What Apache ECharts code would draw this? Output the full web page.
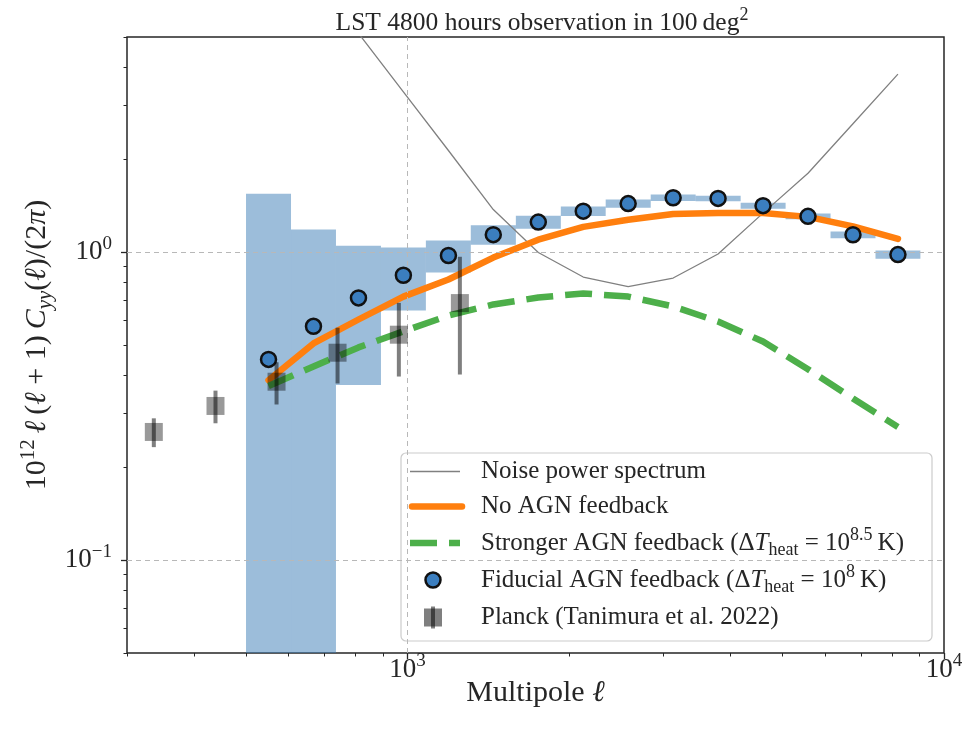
<!DOCTYPE html>
<html>
<head>
<meta charset="utf-8">
<title>LST tSZ power spectrum</title>
<script src="https://cdn.jsdelivr.net/npm/echarts@6.0.0/dist/echarts.min.js"></script>
<style>
  html, body { margin: 0; padding: 0; background: #ffffff; }
  #chart { width: 966px; height: 736px; }
</style>
</head>
<body>
<div id="chart"></div>
<script>
// ---- data -------------------------------------------------------------
// multipole bins (15 log-spaced bins)
const binEdges   = [500, 606.5, 735.6, 892.3, 1082, 1312, 1592, 1931, 2341, 2840, 3444, 4178, 5067, 6145, 7453, 9036];
const binCenters = [550.7, 667.9, 810.2, 982.4, 1192, 1445, 1753, 2126, 2578, 3127, 3792, 4599, 5578, 6766, 8206];

// 10^12 l(l+1) C_yy / 2pi
const fiducial    = [0.449, 0.575, 0.711, 0.842, 0.976, 1.141, 1.253, 1.360, 1.439, 1.503, 1.496, 1.417, 1.308, 1.140, 0.983];
const fiducialErr = [1.10, 0.61, 0.34, 0.195, 0.117, 0.083, 0.060, 0.049, 0.044, 0.037, 0.031, 0.032, 0.028, 0.029, 0.030];
const noAGN       = [0.384, 0.506, 0.605, 0.718, 0.816, 0.961, 1.099, 1.209, 1.276, 1.332, 1.342, 1.342, 1.303, 1.214, 1.105];
const strongAGN   = [0.368, 0.426, 0.491, 0.554, 0.623, 0.677, 0.713, 0.735, 0.718, 0.667, 0.596, 0.513, 0.417, 0.335, 0.271];
const noise       = [12.4, 7.97, 5.14, 3.32, 2.14, 1.376, 0.998, 0.831, 0.774, 0.825, 0.987, 1.340, 1.806, 2.615, 3.79];

// Planck measurement (Tanimura et al. 2022)
const planckEll = [336.6, 438.6, 570, 740.6, 963.5, 1252];
const planck    = [0.261, 0.317, 0.380, 0.472, 0.540, 0.684];
const planckErr = [0.028, 0.0385, 0.0595, 0.097, 0.145, 0.283];

// axes
const xRange = [300, 10000];
const yRange = [0.05, 5];
const xMajorTicks = [1000, 10000];
const xMinorTicks = [300, 400, 500, 600, 700, 800, 900, 2000, 3000, 4000, 5000, 6000, 7000, 8000, 9000];
const yMajorTicks = [0.1, 1];
const yMinorTicks = [0.05, 0.06, 0.07, 0.08, 0.09, 0.2, 0.3, 0.4, 0.5, 0.6, 0.7, 0.8, 0.9, 2, 3, 4, 5];

const seriesNames = [
  'Noise power spectrum',
  'No AGN feedback',
  'Stronger AGN feedback',
  'Fiducial AGN feedback',
  'Planck (Tanimura et al. 2022)'
];

// ---- styling helpers --------------------------------------------------
const SERIF = '"Liberation Serif", "DejaVu Serif", serif';
const INK = '#262626';

// rich-text styles: n normal, i italic, sup/sub raised/lowered small text
function richSet(F, color) {
  const s = Math.round(F * 0.7);
  const lh = Math.round(F * 1.15);
  const base = { fontFamily: SERIF, color: color, fill: color, fontWeight: 'normal', verticalAlign: 'middle' };
  return {
    n:    Object.assign({}, base, { fontSize: F, lineHeight: lh }),
    i:    Object.assign({}, base, { fontSize: F, lineHeight: lh, fontStyle: 'italic' }),
    sup:  Object.assign({}, base, { fontSize: s, lineHeight: s, padding: [0, 0, Math.round(F * 0.64), 0] }),
    sub:  Object.assign({}, base, { fontSize: s, lineHeight: s, padding: [Math.round(F * 0.55), 0, 0, 0] }),
    subi: Object.assign({}, base, { fontSize: s, lineHeight: s, fontStyle: 'italic', padding: [Math.round(F * 0.5), 0, 0, 0] })
  };
}

function powerLabel(exp) {
  const e = Math.round(exp);
  return '{n|10}{sup|' + (e < 0 ? '\u2212' + (-e) : e) + '}';
}

const lg = Math.log10;
const tickF = 27;
const nameF = 30;

// tick axes in exponent space (decoration only, aligned with the log axes)
function tickAxisPair(range, majorVals, minorVals, pos, isX) {
  const lo = lg(range[0]), hi = lg(range[1]);
  const majorAxis = {
    type: 'value', min: lo, max: hi, position: pos,
    axisLine: { show: false, onZero: false },
    splitLine: { show: false },
    axisTick: { show: true, customValues: majorVals.map(lg), length: 6, lineStyle: { color: INK, width: 1.3 } },
    axisLabel: {
      show: true, customValues: majorVals.map(lg), margin: isX ? 1 : 15,
      formatter: function (v) { return powerLabel(v); },
      rich: richSet(tickF, INK)
    }
  };
  const minorAxis = {
    type: 'value', min: lo, max: hi, position: pos,
    axisLine: { show: false, onZero: false },
    splitLine: { show: false },
    axisTick: { show: true, customValues: minorVals.map(lg), length: 3.5, lineStyle: { color: INK, width: 1 } },
    axisLabel: { show: false }
  };
  return [majorAxis, minorAxis];
}

const xTickAxes = tickAxisPair(xRange, xMajorTicks, xMinorTicks, 'bottom', true);
const yTickAxes = tickAxisPair(yRange, yMajorTicks, yMinorTicks, 'left', false);

xTickAxes[0].name = '{n|Multipole }{i|\u2113}';
xTickAxes[0].nameLocation = 'middle';
xTickAxes[0].nameGap = 23;
xTickAxes[0].nameMoveOverlap = false;
xTickAxes[0].nameTextStyle = { rich: richSet(nameF, INK) };

yTickAxes[0].name = '{n|10}{sup|12}{n|\u2009}{i|\u2113}{n|\u2009(}{i|\u2113}{n| + 1)\u2009}{i|C}{subi|yy}{n|(}{i|\u2113}{n|)/(2}{i|\u03c0}{n|)}';
yTickAxes[0].nameLocation = 'middle';
yTickAxes[0].nameRotate = 90;
yTickAxes[0].nameGap = 72;
yTickAxes[0].nameMoveOverlap = false;
yTickAxes[0].nameTextStyle = { rich: richSet(nameF, INK) };

// gridlines at the interior major ticks
const gridLines = []
  .concat(yMajorTicks.filter(v => v > yRange[0] && v < yRange[1]).map(v => ({ yAxis: v })))
  .concat(xMajorTicks.filter(v => v > xRange[0] && v < xRange[1]).map(v => ({ xAxis: v })));

const BOX_FILL = 'rgba(58,124,182,0.5)';

const option = {
  animation: false,
  backgroundColor: '#ffffff',
  title: {
    text: '{n|LST 4800 hours observation in 100\u2009deg}{sup|2}',
    left: 537, top: 4, textAlign: 'center',
    textStyle: { fontWeight: 'normal', rich: richSet(25.5, INK) }
  },
  grid: {
    left: 127, top: 37, right: 22, bottom: 83,
    show: true, borderColor: INK, borderWidth: 1.5, backgroundColor: 'rgba(0,0,0,0)',
    containLabel: false, outerBoundsMode: 'none'
  },
  xAxis: [
    { type: 'log', logBase: 10, min: xRange[0], max: xRange[1], position: 'bottom', show: false, axisLine: { onZero: false } },
    xTickAxes[0],
    xTickAxes[1]
  ],
  yAxis: [
    { type: 'log', logBase: 10, min: yRange[0], max: yRange[1], position: 'left', show: false, axisLine: { onZero: false } },
    yTickAxes[0],
    yTickAxes[1]
  ],
  series: [
    {
      // error boxes of the fiducial spectrum, one per multipole bin
      name: seriesNames[3] + ' error', type: 'custom', xAxisIndex: 0, yAxisIndex: 0, z: 1, silent: true,
      data: binCenters.map((_, i) => [binEdges[i], binEdges[i + 1],
                                      Math.max(fiducial[i] - fiducialErr[i], 1e-4),
                                      fiducial[i] + fiducialErr[i]]),
      encode: { x: [0, 1], y: [2, 3] },
      renderItem: function (params, api) {
        const a = api.coord([api.value(0), api.value(3)]);
        const b = api.coord([api.value(1), api.value(2)]);
        const cs = params.coordSys;
        const r = echarts.graphic.clipRectByRect(
          { x: a[0], y: a[1], width: b[0] - a[0], height: b[1] - a[1] },
          { x: cs.x, y: cs.y, width: cs.width, height: cs.height });
        return r && { type: 'rect', shape: r, style: { fill: BOX_FILL } };
      }
    },
    {
      name: seriesNames[0], type: 'line', xAxisIndex: 0, yAxisIndex: 0, z: 2, silent: true,
      data: binCenters.map((l, i) => [l, noise[i]]),
      showSymbol: false, symbol: 'none',
      lineStyle: { color: '#808080', width: 1.3 },
      markLine: {
        silent: true, symbol: 'none', label: { show: false },
        lineStyle: { color: '#b8b8b8', width: 1, type: [5, 4] },
        data: gridLines
      }
    },
    {
      name: seriesNames[1], type: 'line', xAxisIndex: 0, yAxisIndex: 0, z: 3, silent: true,
      data: binCenters.map((l, i) => [l, noAGN[i]]),
      showSymbol: false, symbol: 'none',
      lineStyle: { color: '#ff7f0e', width: 6.5, cap: 'round', join: 'round' }
    },
    {
      name: seriesNames[2], type: 'line', xAxisIndex: 0, yAxisIndex: 0, z: 4, silent: true,
      data: binCenters.map((l, i) => [l, strongAGN[i]]),
      showSymbol: false, symbol: 'none',
      lineStyle: { color: '#4daf4a', width: 6.5, type: [27, 12], join: 'round' }
    },
    {
      name: seriesNames[3], type: 'scatter', xAxisIndex: 0, yAxisIndex: 0, z: 6, silent: true,
      data: binCenters.map((l, i) => [l, fiducial[i]]),
      symbol: 'circle', symbolSize: 15,
      itemStyle: { color: '#3b7ebf', borderColor: '#111111', borderWidth: 2.5, opacity: 1 }
    },
    {
      name: seriesNames[4] + ' error', type: 'custom', xAxisIndex: 0, yAxisIndex: 0, z: 7, silent: true,
      data: planckEll.map((l, i) => [l, planck[i] - planckErr[i], planck[i] + planckErr[i]]),
      encode: { x: 0, y: [1, 2] },
      renderItem: function (params, api) {
        const a = api.coord([api.value(0), api.value(1)]);
        const b = api.coord([api.value(0), api.value(2)]);
        return { type: 'line', shape: { x1: a[0], y1: a[1], x2: b[0], y2: b[1] },
                 style: { stroke: 'rgba(0,0,0,0.5)', lineWidth: 4 } };
      }
    },
    {
      name: seriesNames[4], type: 'scatter', xAxisIndex: 0, yAxisIndex: 0, z: 8, silent: true,
      data: planckEll.map((l, i) => [l, planck[i]]),
      symbol: 'rect', symbolSize: 18,
      itemStyle: { color: 'rgba(0,0,0,0.5)' }
    }
  ]
};

// ---- legend box ---------------------------------------------------------
const legendF = 25;
const LX = 401, LY = 453, LW = 531, LH = 188;
const rowY = [471.5, 506.5, 543, 580, 617.5];
const iconX0 = 410, iconX1 = 460, iconMid = 433, textX = 481;
const legendTexts = [
  '{n|' + seriesNames[0] + '}',
  '{n|' + seriesNames[1] + '}',
  '{n|' + seriesNames[2] + ' (\u0394}{i|T}{sub|heat}{n| = 10}{sup|8.5}{n|\u2009K)}',
  '{n|' + seriesNames[3] + ' (\u0394}{i|T}{sub|heat}{n| = 10}{sup|8}{n|\u2009K)}',
  '{n|' + seriesNames[4] + '}'
];
const legendRich = richSet(legendF, INK);
const legendChildren = [
  { type: 'rect', shape: { x: LX, y: LY, width: LW, height: LH, r: 5 },
    style: { fill: 'rgba(255,255,255,0.8)', stroke: '#cccccc', lineWidth: 1.2 } },
  { type: 'line', shape: { x1: iconX0, y1: rowY[0], x2: iconX1, y2: rowY[0] },
    style: { stroke: '#808080', lineWidth: 1.3 } },
  { type: 'line', shape: { x1: iconX0 + 2, y1: rowY[1], x2: iconX1 + 2, y2: rowY[1] },
    style: { stroke: '#ff7f0e', lineWidth: 6.5, lineCap: 'round' } },
  { type: 'line', shape: { x1: iconX0, y1: rowY[2], x2: iconX1, y2: rowY[2] },
    style: { stroke: '#4daf4a', lineWidth: 6.5, lineDash: [27, 12] } },
  { type: 'circle', shape: { cx: iconMid, cy: rowY[3], r: 7.5 },
    style: { fill: '#3b7ebf', stroke: '#111111', lineWidth: 2.5 } },
  { type: 'rect', shape: { x: iconMid - 9, y: rowY[4] - 9, width: 18, height: 18 },
    style: { fill: 'rgba(0,0,0,0.5)' } },
  { type: 'line', shape: { x1: iconMid, y1: rowY[4] - 11, x2: iconMid, y2: rowY[4] + 11 },
    style: { stroke: 'rgba(0,0,0,0.5)', lineWidth: 4 } }
];
legendTexts.forEach(function (t, k) {
  legendChildren.push({
    type: 'text', x: textX, y: rowY[k],
    style: { text: t, rich: legendRich, align: 'left', verticalAlign: 'middle',
             fontFamily: SERIF, fontSize: legendF, fill: INK }
  });
});
option.graphic = [{ type: 'group', z: 100, silent: true, children: legendChildren }];

const chart = echarts.init(document.getElementById('chart'), null, { renderer: 'canvas' });
chart.setOption(option);
</script>
</body>
</html>
